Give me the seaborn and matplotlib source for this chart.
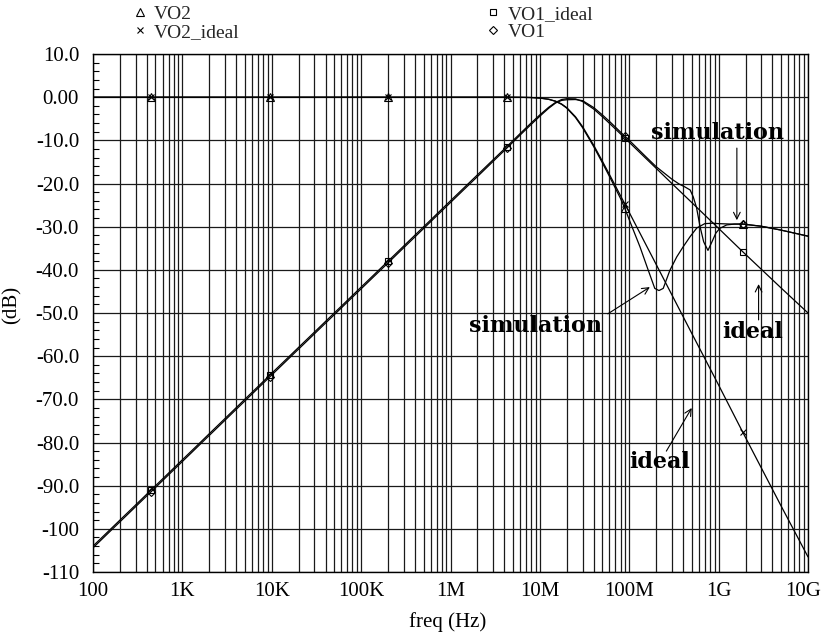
import numpy as np
import pandas as pd
import matplotlib
matplotlib.use("Agg")
import matplotlib.pyplot as plt
from matplotlib.lines import Line2D
from matplotlib.ticker import FixedLocator, NullFormatter, LogLocator
from matplotlib.transforms import ScaledTranslation
import seaborn as sns

# ---- traces (frequency in Hz, magnitude in dB) ----
vo2_ideal_f = [100, 447, 9.5e3, 2.0e5, 1e6, 4.27e6, 6e6, 8e6, 1e7, 1.25e7, 1.5e7,
               1.75e7, 2e7, 2.5e7, 3e7, 4e7, 5e7, 6e7, 8e7, 8.9e7, 1e8, 1.5e8, 2e8,
               3e8, 5e8, 1e9, 1.86e9, 5e9, 1e10]
vo2_ideal_db = [0, 0, 0, 0, 0, 0, -0.03, -0.08, -0.2, -0.47, -0.92,
                -1.58, -2.43, -4.52, -6.8, -11.13, -14.81, -17.9, -22.85, -24.7, -26.7, -33.75, -38.74,
                -45.8, -54.7, -66.7, -77.6, -94.7, -106.5]

vo2_f = [100, 447, 9.5e3, 2.0e5, 1e6, 4.27e6, 6e6, 8e6, 1e7, 1.25e7, 1.5e7, 1.75e7,
         2e7, 2.5e7, 3e7, 4e7, 5e7, 6e7, 8e7, 8.9e7, 1e8, 1.32e8, 1.6e8, 1.93e8,
         2.15e8, 2.4e8, 2.85e8, 3.4e8, 4e8, 4.8e8, 5.7e8, 7e8, 8.5e8, 1e9, 1.4e9,
         1.86e9, 3e9, 5e9, 1e10]
vo2_db = [0, 0, 0, 0, 0, 0, -0.03, -0.09, -0.22, -0.5, -0.97, -1.66,
          -2.55, -4.7, -7.05, -11.45, -15.2, -18.35, -23.5, -25.7, -28.4, -34.7, -39.6, -44.3,
          -44.8, -44.3, -40.1, -37.0, -34.7, -32.3, -30.3, -29.3, -29.2, -29.3, -29.4,
          -29.4, -29.9, -30.8, -32.2]

vo1_ideal_f = [100, 447, 1e3, 9.5e3, 1e5, 2e5, 1e6, 2e6, 4.27e6, 6e6, 8e6, 1e7, 1.25e7,
               1.5e7, 1.75e7, 2e7, 2.5e7, 3e7, 4e7, 5e7, 6e7, 8e7, 8.9e7, 1e8, 1.5e8,
               2e8, 3e8, 5e8, 1e9, 1.86e9, 5e9, 1e10]
vo1_ideal_db = [-104.0, -91.0, -84.0, -64.4, -44.0, -38.0, -24.0, -18.0, -11.45, -8.45, -5.96, -4.1, -2.37,
                -1.2, -0.55, -0.35, -0.4, -1.0, -2.75, -4.52, -6.05, -8.53, -9.44, -10.46, -13.99,
                -16.48, -20.0, -24.4, -30.4, -35.8, -44.2, -50.0]

vo1_f = [100, 447, 1e3, 9.5e3, 1e5, 2e5, 1e6, 2e6, 4.27e6, 6e6, 8e6, 1e7, 1.25e7, 1.5e7,
         1.75e7, 2e7, 2.5e7, 3e7, 4e7, 5e7, 6e7, 8e7, 8.9e7, 1e8, 1.5e8, 2e8, 3e8,
         3.6e8, 4.2e8, 4.8e8, 5.2e8, 5.65e8, 6.2e8, 6.8e8, 7.6e8, 8.6e8, 9.3e8, 1.03e9,
         1.23e9, 1.5e9, 1.86e9, 3e9, 5e9, 1e10]
vo1_db = [-104.4, -91.4, -84.4, -64.8, -44.4, -38.4, -24.4, -18.4, -11.8, -8.8, -6.3, -4.4, -2.6, -1.35,
          -0.75, -0.6, -0.55, -0.8, -2.4, -4.1, -5.6, -8.1, -9.0, -10.0, -13.6, -16.1, -19.0,
          -20.1, -20.8, -21.5, -23.1, -25.5, -30.0, -33.5, -35.5, -33.1, -31.5, -30.4,
          -29.6, -29.4, -29.4, -29.9, -30.8, -32.2]

# frequencies where the trace symbols are drawn
marker_f = [447, 9.5e3, 2.0e5, 4.27e6, 8.9e7, 1.86e9]

x_ticks = [1e2, 1e3, 1e4, 1e5, 1e6, 1e7, 1e8, 1e9, 1e10]
x_labels = ["100", "1K", "10K", "100K", "1M", "10M", "100M", "1G", "10G"]
y_ticks = [10, 0, -10, -20, -30, -40, -50, -60, -70, -80, -90, -100, -110]
y_labels = ["10.0", "0.00", "-10.0", "-20.0", "-30.0", "-40.0", "-50.0",
            "-60.0", "-70.0", "-80.0", "-90.0", "-100", "-110"]

traces = [
    ("VO2", vo2_f, vo2_db, "^"),
    ("VO2_ideal", vo2_ideal_f, vo2_ideal_db, "x"),
    ("VO1_ideal", vo1_ideal_f, vo1_ideal_db, "s"),
    ("VO1", vo1_f, vo1_db, "D"),
]

sns.set_theme(style="white")
plt.rcParams["font.family"] = ["Liberation Serif", "DejaVu Serif"]

W, H = 822, 639
fig = plt.figure(figsize=(W / 100, H / 100), dpi=100)
ax = fig.add_axes([93 / W, 67 / H, 715 / W, 518 / H])

marker_kw = {"^": dict(ms=6), "x": dict(ms=5), "s": dict(ms=5), "D": dict(ms=4.5)}
for name, f, db, mk in traces:
    df = pd.DataFrame({"freq": f, "dB": db})
    idx = [i for i, v in enumerate(f) if v in marker_f]
    sns.lineplot(data=df, x="freq", y="dB", ax=ax, color="black", lw=0.9,
                 estimator=None, sort=False, marker=mk, markevery=idx,
                 mfc="none", mec="black", mew=0.8, **marker_kw[mk])

ax.set_xscale("log")
ax.set_xlim(1e2, 1e10)
ax.set_ylim(-110, 10)

ax.xaxis.set_major_locator(FixedLocator(x_ticks))
ax.set_xticklabels(x_labels)
ax.xaxis.set_minor_locator(LogLocator(base=10, subs=np.arange(2, 10), numticks=100))
ax.xaxis.set_minor_formatter(NullFormatter())
ax.yaxis.set_major_locator(FixedLocator(y_ticks))
ax.set_yticklabels(y_labels)
ax.yaxis.set_minor_locator(FixedLocator(np.arange(-110, 11, 2)))

ax.grid(True, which="both", axis="x", color="#1a1a1a", lw=0.9)
ax.grid(True, which="major", axis="y", color="#1a1a1a", lw=0.9)
ax.set_axisbelow(True)

ax.tick_params(axis="x", which="both", length=0, pad=7, labelsize=15, colors="black")
ax.tick_params(axis="y", which="major", length=0, pad=10, labelsize=15, colors="black")
ax.tick_params(axis="y", which="minor", left=True, direction="in", length=4, width=0.8, color="black")

# keep the last frequency label inside the canvas
last = ax.get_xticklabels()[-1]
last.set_transform(last.get_transform() + ScaledTranslation(-0.05, 0, fig.dpi_scale_trans))

for sp in ax.spines.values():
    sp.set_color("black")
    sp.set_linewidth(1.0)

ax.set_xlabel("freq (Hz)", fontsize=15, color="black")
ax.set_ylabel("(dB)", fontsize=15, color="black")
ax.xaxis.set_label_coords((448 - 93) / 715, (572 - 612) / 518)
ax.yaxis.set_label_coords((22 - 93) / 715, (572 - 305) / 518)

# legend across the top
handles = [Line2D([], [], color="black", marker=mk, linestyle="none", mfc="none",
                  mec="black", mew=0.8, **marker_kw[mk]) for _, _, _, mk in traces]
labels = [t[0] for t in traces]
fig.legend(handles, labels, ncol=2, loc="upper left", bbox_to_anchor=(123 / W, 1.008),
           frameon=False, fontsize=14, handlelength=0.6, handletextpad=0.45,
           columnspacing=12.75, labelspacing=0.02, borderpad=0.05)

# callouts
note = dict(fontsize=16, fontweight="bold", family="DejaVu Serif", color="black",
            ha="center", va="center")
arrow = dict(arrowstyle="->", lw=0.8, color="black", shrinkA=0, shrinkB=0)

ax.text(9.8e8, -8.3, "simulation", **note)
ax.annotate("", xy=(1.6e9, -28.5), xytext=(1.6e9, -11.8), arrowprops=arrow)

ax.text(9.0e6, -53.0, "simulation", **note)
ax.annotate("", xy=(1.7e8, -44.0), xytext=(5.75e7, -50.2), arrowprops=arrow)

ax.text(2.4e9, -54.4, "ideal", **note)
ax.annotate("", xy=(2.8e9, -43.3), xytext=(2.8e9, -51.6), arrowprops=arrow)

ax.text(2.2e8, -84.5, "ideal", **note)
ax.annotate("", xy=(5.0e8, -72.0), xytext=(2.6e8, -82.0), arrowprops=arrow)

fig.savefig("out.png", dpi=100, facecolor="white")
